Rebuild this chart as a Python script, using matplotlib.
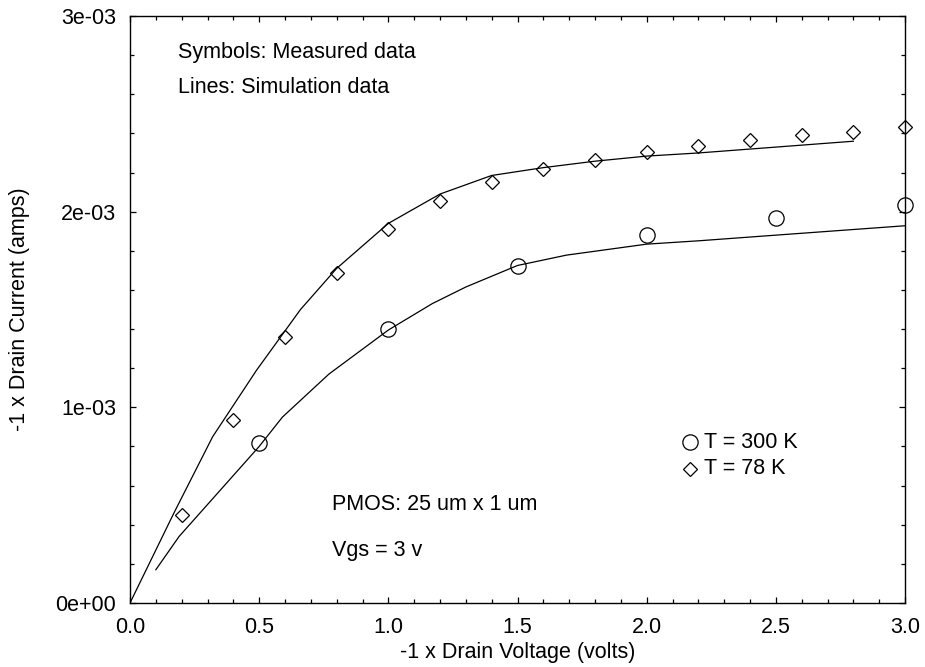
import numpy as np
import matplotlib
matplotlib.use("Agg")
import matplotlib.pyplot as plt
from matplotlib.ticker import MultipleLocator, FuncFormatter

plt.rcParams["font.family"] = ["Liberation Sans", "DejaVu Sans"]
FS = 15.5

# measured data (symbols), current in mA
vd_78 = [0.2, 0.4, 0.6, 0.8, 1.0, 1.2, 1.4, 1.6, 1.8, 2.0, 2.2, 2.4, 2.6, 2.8, 3.0]
id_78 = [0.45, 0.935, 1.358, 1.685, 1.911, 2.056, 2.153, 2.217, 2.264, 2.303,
         2.337, 2.366, 2.391, 2.408, 2.431]
vd_300 = [0.5, 1.0, 1.5, 2.0, 2.5, 3.0]
id_300 = [0.82, 1.399, 1.724, 1.880, 1.969, 2.032]

# simulation data (lines)
sim_vd_78 = [0.0, 0.17, 0.32, 0.49, 0.66, 0.8, 1.0, 1.2, 1.4, 1.6, 1.8, 2.0,
             2.2, 2.4, 2.6, 2.8]
sim_id_78 = [0.0, 0.46, 0.85, 1.19, 1.50, 1.71, 1.94, 2.09, 2.185, 2.225,
             2.258, 2.284, 2.30, 2.32, 2.34, 2.36]
sim_vd_300 = [0.1, 0.19, 0.5, 0.59, 0.77, 1.0, 1.17, 1.3, 1.5, 1.69, 2.0,
              2.2, 2.5, 3.0]
sim_id_300 = [0.17, 0.34, 0.80, 0.95, 1.17, 1.395, 1.53, 1.615, 1.725, 1.778,
              1.834, 1.851, 1.88, 1.928]

fig = plt.figure(figsize=(9.25, 6.67), dpi=100)
ax = fig.add_axes([130 / 925, 64 / 667, 775 / 925, 587 / 667])

ax.plot(sim_vd_78, np.array(sim_id_78) * 1e-3, color="black", lw=0.9)
ax.plot(sim_vd_300, np.array(sim_id_300) * 1e-3, color="black", lw=0.9)
ax.plot(vd_78, np.array(id_78) * 1e-3, ls="none", marker="D", ms=7.4,
        mfc="none", mec="black", mew=0.9, clip_on=False)
ax.plot(vd_300, np.array(id_300) * 1e-3, ls="none", marker="o", ms=11,
        mfc="none", mec="black", mew=0.9, clip_on=False)

ax.set_xlim(0, 3.0)
ax.set_ylim(0, 3e-3)
ax.xaxis.set_major_locator(MultipleLocator(0.5))
ax.xaxis.set_minor_locator(MultipleLocator(0.1))
ax.yaxis.set_major_locator(MultipleLocator(1e-3))
ax.yaxis.set_minor_locator(MultipleLocator(2e-4))
ax.xaxis.set_major_formatter(FuncFormatter(lambda v, p: f"{v:.1f}"))
ax.yaxis.set_major_formatter(FuncFormatter(lambda v, p: f"{v:.0e}"))
ax.tick_params(which="both", direction="in", top=True, right=True,
               labelsize=FS, width=0.9)
ax.tick_params(which="major", length=4.5, pad=10)
ax.tick_params(which="minor", length=3)
for s in ax.spines.values():
    s.set_linewidth(1.0)

ax.set_xlabel("-1 x Drain Voltage (volts)", fontsize=FS, labelpad=3)
ax.set_ylabel("-1 x Drain Current (amps)", fontsize=FS, labelpad=18)

ax.text(0.062, 0.937, "Symbols: Measured data", transform=ax.transAxes,
        fontsize=FS, va="center")
ax.text(0.062, 0.879, "Lines: Simulation data", transform=ax.transAxes,
        fontsize=FS, va="center")
ax.text(0.26, 0.167, "PMOS: 25 um x 1 um", transform=ax.transAxes,
        fontsize=FS, va="center")
ax.text(0.26, 0.090, "Vgs = 3 v", transform=ax.transAxes,
        fontsize=FS, va="center")

# legend drawn as markers + text
ax.plot([0.723], [0.274], transform=ax.transAxes, marker="o", ms=11,
        mfc="none", mec="black", mew=0.9)
ax.plot([0.723], [0.229], transform=ax.transAxes, marker="D", ms=7.4,
        mfc="none", mec="black", mew=0.9)
ax.text(0.741, 0.274, "T = 300 K", transform=ax.transAxes, fontsize=FS,
        va="center")
ax.text(0.741, 0.229, "T = 78 K", transform=ax.transAxes, fontsize=FS,
        va="center")

fig.savefig("out.png", dpi=100)
